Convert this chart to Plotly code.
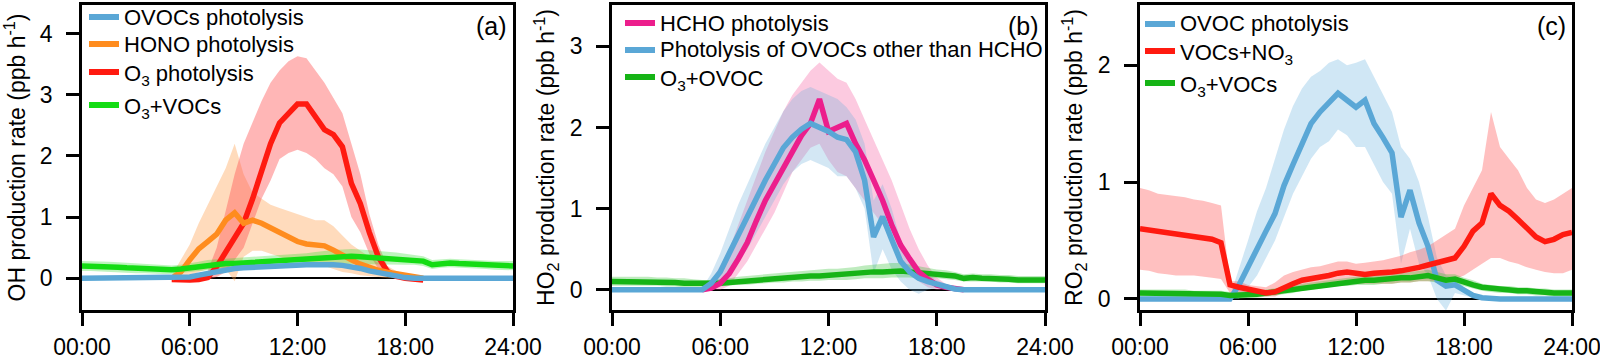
import plotly.graph_objects as go

# Data (half-hour steps, 00:00 - 24:00)
##################################

hours = [i / 2 for i in range(49)]

# Panel (a) OH production
oh_ovoc = [0, 0, 0, 0, 0, 0, 0, 0, 0, 0, 0, 0,
           0.02, 0.05, 0.08, 0.11, 0.14, 0.16, 0.17, 0.18, 0.19, 0.20, 0.20, 0.21, 0.21,
           0.22, 0.22, 0.23, 0.22, 0.21, 0.19, 0.16, 0.12, 0.09, 0.05, 0.03, 0.01,
           0, 0, 0, 0, 0, 0, 0, 0, 0, 0, 0, 0]
# HONO and O3 photolysis start at 05:00 (index 10)
oh_hono = [0.0, 0.1, 0.3, 0.48, 0.6, 0.72, 0.95, 1.07, 0.9, 0.95, 0.9, 0.82, 0.74, 0.67, 0.6,
           0.56, 0.55, 0.53, 0.46, 0.37, 0.3, 0.23, 0.17, 0.13, 0.1, 0.07, 0.04, 0.02, 0.0]
oh_hono_hi = [0.05, 0.3, 0.55, 0.9, 1.2, 1.5, 1.8, 2.2, 1.7, 1.4, 1.3, 1.2, 1.15, 1.1, 1.05,
              1.0, 0.95, 0.95, 0.85, 0.7, 0.55, 0.45, 0.35, 0.25, 0.2, 0.12, 0.07, 0.03, 0.0]
oh_hono_lo = [0, 0, 0.05, 0.1, 0.15, 0.2, 0.15, -0.05, 0.35, 0.45, 0.45, 0.4, 0.35, 0.3, 0.28,
              0.25, 0.22, 0.2, 0.15, 0.1, 0.08, 0.05, 0.03, 0.02, 0, 0, 0, 0, 0]
oh_o3 = [-0.02, -0.03, -0.03, -0.02, 0.01, 0.19, 0.42, 0.65, 0.9, 1.3, 1.75, 2.2, 2.54, 2.7, 2.85,
         2.85, 2.65, 2.43, 2.35, 2.15, 1.55, 1.22, 0.75, 0.35, 0.11, 0.03, 0.0, -0.02, -0.03]
oh_o3_hi = [0, 0, 0.02, 0.05, 0.12, 0.5, 1.1, 1.7, 2.2, 2.55, 2.9, 3.2, 3.4, 3.55, 3.63,
            3.6, 3.4, 3.2, 2.95, 2.7, 2.2, 1.7, 1.05, 0.55, 0.2, 0.05, 0.02, 0, 0]
oh_o3_lo = [-0.05, -0.06, -0.06, -0.05, -0.03, 0.02, 0.1, 0.3, 0.5, 0.9, 1.3, 1.6, 1.95, 2.05, 2.1,
            2.05, 1.95, 1.8, 1.7, 1.5, 1.0, 0.75, 0.4, 0.15, 0.03, 0, -0.02, -0.04, -0.05]
oh_o3voc = [0.2, 0.2, 0.19, 0.19, 0.18, 0.17, 0.16, 0.16, 0.15, 0.14,
            0.14, 0.15, 0.17, 0.19, 0.22, 0.23, 0.24, 0.24, 0.25, 0.25,
            0.26, 0.26, 0.27, 0.28, 0.29, 0.3, 0.31, 0.33, 0.34, 0.35,
            0.36, 0.35, 0.34, 0.33, 0.33, 0.32, 0.31, 0.3, 0.28, 0.22,
            0.24, 0.25, 0.24, 0.23, 0.23, 0.22, 0.21, 0.2, 0.2]
oh_o3voc_hi = [0.28, 0.28, 0.27, 0.27, 0.26, 0.25, 0.24, 0.23, 0.22, 0.21,
               0.21, 0.22, 0.24, 0.27, 0.3, 0.31, 0.32, 0.33, 0.34, 0.34,
               0.35, 0.36, 0.37, 0.38, 0.4, 0.41, 0.43, 0.45, 0.46, 0.47,
               0.48, 0.47, 0.46, 0.44, 0.43, 0.42, 0.4, 0.38, 0.36, 0.3,
               0.31, 0.32, 0.31, 0.3, 0.3, 0.29, 0.28, 0.28, 0.28]
oh_o3voc_lo = [0.12, 0.12, 0.11, 0.11, 0.1, 0.09, 0.08, 0.08, 0.08, 0.07,
               0.07, 0.08, 0.1, 0.12, 0.14, 0.15, 0.16, 0.16, 0.16, 0.17,
               0.17, 0.17, 0.18, 0.18, 0.19, 0.2, 0.2, 0.21, 0.22, 0.23,
               0.24, 0.24, 0.23, 0.23, 0.23, 0.22, 0.22, 0.22, 0.2, 0.15,
               0.17, 0.18, 0.17, 0.16, 0.16, 0.15, 0.14, 0.13, 0.13]

# Panel (b) HO2 production
ho2_hcho = [0.0, 0.02, 0.08, 0.2, 0.38, 0.58, 0.85, 1.1, 1.3, 1.5, 1.72, 1.9, 2.05, 2.35, 1.95,
            2.0, 2.05, 1.8, 1.6, 1.35, 1.1, 0.8, 0.55, 0.38, 0.22, 0.13, 0.06, 0.03, 0.01, 0.0]
ho2_hcho_hi = [0.02, 0.1, 0.3, 0.5, 0.8, 1.1, 1.4, 1.7, 1.95, 2.2, 2.4, 2.55, 2.7, 2.8, 2.7,
               2.6, 2.55, 2.35, 2.1, 1.85, 1.6, 1.35, 1.05, 0.75, 0.5, 0.3, 0.15, 0.07, 0.02, 0.0]
ho2_hcho_lo = [0, 0, 0, 0.05, 0.2, 0.35, 0.55, 0.75, 0.95, 1.2, 1.45, 1.6, 1.75, 1.8, 1.6,
               1.45, 1.4, 1.25, 1.1, 0.95, 0.8, 0.6, 0.4, 0.2, 0.1, 0.03, 0, 0, 0, 0]
ho2_ovoc = [0, 0, 0, 0, 0, 0, 0, 0, 0, 0, 0,
            0.08, 0.22, 0.45, 0.68, 0.88, 1.12, 1.35, 1.55, 1.75, 1.88,
            1.98, 2.05, 2.0, 1.95, 1.88, 1.85, 1.7, 1.35, 0.65, 0.9,
            0.62, 0.35, 0.22, 0.14, 0.1, 0.07, 0.04, 0.01,
            0, 0, 0, 0, 0, 0, 0, 0, 0, 0]
ho2_ovoc_hi = [0.02, 0.2, 0.45, 0.75, 1.05, 1.3, 1.55, 1.8, 2.0, 2.2, 2.35, 2.45, 2.5, 2.45, 2.4,
               2.35, 2.25, 2.1, 1.8, 1.1, 1.3, 1.0, 0.6, 0.4, 0.25, 0.18, 0.12, 0.07, 0.02, 0.0]
ho2_ovoc_lo = [0, 0, 0.05, 0.2, 0.35, 0.5, 0.7, 0.9, 1.1, 1.3, 1.45, 1.55, 1.6, 1.55, 1.5,
               1.4, 1.4, 1.25, 1.0, 0.2, 0.5, 0.25, 0.1, 0.0, -0.05, 0.0, 0.02, 0.01, 0, 0]
ho2_o3 = [0.1, 0.1, 0.1, 0.1, 0.1, 0.1, 0.09, 0.09, 0.08, 0.08,
          0.07, 0.07, 0.08, 0.09, 0.1, 0.11, 0.12, 0.13, 0.14, 0.14,
          0.15, 0.16, 0.17, 0.17, 0.18, 0.18, 0.19, 0.2, 0.21, 0.22,
          0.22, 0.23, 0.23, 0.22, 0.21, 0.2, 0.19, 0.18, 0.17, 0.14,
          0.15, 0.14, 0.14, 0.13, 0.13, 0.12, 0.12, 0.12, 0.12]
ho2_o3_hi = [0.16, 0.16, 0.16, 0.16, 0.16, 0.15, 0.15, 0.14, 0.14, 0.13,
             0.12, 0.12, 0.13, 0.14, 0.16, 0.17, 0.18, 0.19, 0.2, 0.21,
             0.22, 0.23, 0.24, 0.25, 0.26, 0.26, 0.27, 0.28, 0.3, 0.31,
             0.32, 0.33, 0.33, 0.31, 0.29, 0.27, 0.25, 0.24, 0.22, 0.19,
             0.2, 0.19, 0.19, 0.18, 0.18, 0.17, 0.17, 0.17, 0.17]
ho2_o3_lo = [0.05, 0.05, 0.05, 0.05, 0.05, 0.05, 0.04, 0.04, 0.03, 0.03,
             0.03, 0.03, 0.04, 0.05, 0.06, 0.06, 0.07, 0.08, 0.09, 0.09,
             0.1, 0.1, 0.11, 0.11, 0.12, 0.12, 0.12, 0.13, 0.14, 0.14,
             0.14, 0.15, 0.15, 0.15, 0.14, 0.14, 0.14, 0.13, 0.12, 0.1,
             0.1, 0.1, 0.1, 0.09, 0.09, 0.08, 0.08, 0.08, 0.08]

# Panel (c) RO2 production
ro2_ovoc = [0, 0, 0, 0, 0, 0, 0, 0, 0, 0, 0,
            0.12, 0.28, 0.42, 0.58, 0.73, 0.97, 1.15, 1.33, 1.5, 1.6,
            1.68, 1.76, 1.7, 1.64, 1.7, 1.5, 1.38, 1.25, 0.7, 0.93,
            0.65, 0.45, 0.16, 0.11, 0.12, 0.07, 0.03, 0.01,
            0, 0, 0, 0, 0, 0, 0, 0, 0, 0]
ro2_ovoc_hi = [0.02, 0.25, 0.5, 0.75, 0.95, 1.2, 1.45, 1.65, 1.8, 1.9, 1.95, 2.02, 2.05, 2.0, 2.02,
               2.05, 1.9, 1.75, 1.6, 1.3, 1.2, 1.0, 0.7, 0.35, 0.2, 0.18, 0.1, 0.05, 0.02, 0]
ro2_ovoc_lo = [0, 0, 0.1, 0.2, 0.35, 0.5, 0.7, 0.9, 1.05, 1.2, 1.3, 1.35, 1.45, 1.4, 1.3,
               1.3, 1.15, 1.0, 0.9, 0.3, 0.6, 0.3, 0.2, 0.0, -0.1, 0.05, 0.03, 0.01, 0, 0]
ro2_no3 = [0.6, 0.59, 0.58, 0.57, 0.56, 0.55, 0.54, 0.53, 0.51, 0.48,
           0.12, 0.1, 0.08, 0.06, 0.05, 0.06, 0.1, 0.13, 0.16, 0.17,
           0.18, 0.2, 0.22, 0.23, 0.22, 0.21, 0.22, 0.22, 0.23, 0.24,
           0.25, 0.27, 0.29, 0.31, 0.34, 0.35, 0.45, 0.58, 0.65, 0.9,
           0.8, 0.75, 0.68, 0.61, 0.53, 0.49, 0.51, 0.55, 0.57]
ro2_no3_hi = [0.95, 0.93, 0.9, 0.89, 0.88, 0.87, 0.85, 0.84, 0.82, 0.8,
              0.15, 0.15, 0.12, 0.11, 0.1, 0.14, 0.2, 0.23, 0.25, 0.27,
              0.28, 0.3, 0.32, 0.32, 0.3, 0.31, 0.32, 0.33, 0.35, 0.37,
              0.4, 0.42, 0.45, 0.5, 0.55, 0.6, 0.8, 0.95, 1.1, 1.6,
              1.3, 1.2, 1.1, 0.95, 0.85, 0.82, 0.85, 0.9, 0.95]
ro2_no3_lo = [0.25, 0.24, 0.22, 0.21, 0.2, 0.2, 0.2, 0.19, 0.18, 0.17,
              0.05, 0.05, 0.03, 0.02, 0.02, 0.02, 0.05, 0.08, 0.1, 0.11,
              0.12, 0.13, 0.13, 0.13, 0.13, 0.13, 0.13, 0.13, 0.13, 0.14,
              0.14, 0.15, 0.15, 0.15, 0.15, 0.17, 0.2, 0.25, 0.3, 0.35,
              0.35, 0.32, 0.3, 0.27, 0.25, 0.23, 0.22, 0.22, 0.25]
ro2_o3 = [0.05, 0.05, 0.05, 0.05, 0.05, 0.05, 0.04, 0.04, 0.04, 0.04,
          0.03, 0.03, 0.04, 0.04, 0.05, 0.06, 0.07, 0.08, 0.1, 0.11,
          0.12, 0.13, 0.14, 0.14, 0.15, 0.16, 0.16, 0.17, 0.17, 0.18,
          0.18, 0.19, 0.2, 0.18, 0.16, 0.17, 0.14, 0.12, 0.1, 0.09,
          0.08, 0.08, 0.07, 0.07, 0.06, 0.06, 0.05, 0.05, 0.05]
ro2_o3_hi = [0.08, 0.08, 0.08, 0.08, 0.08, 0.08, 0.07, 0.07, 0.07, 0.07,
             0.06, 0.06, 0.07, 0.07, 0.08, 0.09, 0.1, 0.11, 0.13, 0.14,
             0.15, 0.16, 0.17, 0.18, 0.19, 0.2, 0.2, 0.21, 0.21, 0.22,
             0.23, 0.24, 0.25, 0.23, 0.21, 0.21, 0.18, 0.16, 0.13, 0.12,
             0.11, 0.11, 0.1, 0.1, 0.09, 0.09, 0.08, 0.08, 0.08]
ro2_o3_lo = [0.02, 0.02, 0.02, 0.02, 0.02, 0.02, 0.01, 0.01, 0.01, 0.01,
             0.0, 0.0, 0.01, 0.01, 0.02, 0.03, 0.04, 0.05, 0.07, 0.08,
             0.09, 0.1, 0.11, 0.11, 0.12, 0.12, 0.12, 0.13, 0.13, 0.14,
             0.14, 0.15, 0.15, 0.14, 0.12, 0.13, 0.11, 0.09, 0.07, 0.06,
             0.05, 0.05, 0.04, 0.04, 0.03, 0.03, 0.02, 0.02, 0.02]

tick_hours = [0, 6, 12, 18, 24]
tick_text = ["00:00", "06:00", "12:00", "18:00", "24:00"]

# Colours
BLUE = "#5AA7D6"
ORANGE = "#FF8C1E"
RED = "#FF1A10"
LIME = "#14DC14"
PINK = "#EC1E8C"
GREEN = "#16B416"

FONT = "Liberation Sans, Arial, sans-serif"
W, H = 1600, 360


def px(x):
    return x / W


def py(y):
    return 1 - y / H


# Helpers
##################################


def span(start, vals):
    """ Hours that belong to a series which starts at index `start`. """
    return hours[start:start + len(vals)]


def band(fig, start, lo, hi, color, n):
    xs = span(start, lo)
    fig.add_trace(go.Scatter(
        x=xs + xs[::-1], y=hi + lo[::-1], fill="toself", fillcolor=color,
        line=dict(width=0), mode="lines", hoverinfo="skip", showlegend=False,
        xaxis=f"x{n}", yaxis=f"y{n}",
    ))


def line(fig, start, vals, color, name, n):
    fig.add_trace(go.Scatter(
        x=span(start, vals), y=vals, mode="lines", name=name,
        line=dict(color=color, width=5.5), showlegend=False,
        xaxis=f"x{n}", yaxis=f"y{n}",
    ))


def legend_entry(fig, x0, yc, color, text, shift=0):
    """ Igor-style legend row: short thick line sample and a label (pixel positions). """
    fig.add_shape(
        type="line", xref="paper", yref="paper",
        x0=px(x0), x1=px(x0 + 30), y0=py(yc), y1=py(yc),
        line=dict(color=color, width=6),
    )
    fig.add_annotation(
        text=text, x=px(x0 + 33), y=py(yc + shift), xref="paper", yref="paper",
        xanchor="left", yanchor="middle", showarrow=False,
        font=dict(size=22, color="black", family=FONT),
    )


fig = go.Figure()

# (a)
band(fig, 10, oh_hono_lo, oh_hono_hi, "rgba(255,160,80,0.38)", "")
band(fig, 10, oh_o3_lo, oh_o3_hi, "rgba(255,80,80,0.42)", "")
band(fig, 0, oh_o3voc_lo, oh_o3voc_hi, "rgba(40,220,40,0.3)", "")
line(fig, 10, oh_o3, RED, "O<sub>3</sub> photolysis", "")
line(fig, 10, oh_hono, ORANGE, "HONO photolysis", "")
line(fig, 0, oh_o3voc, LIME, "O<sub>3</sub>+VOCs", "")
line(fig, 0, oh_ovoc, BLUE, "OVOCs photolysis", "")

# (b)
band(fig, 10, ho2_hcho_lo, ho2_hcho_hi, "rgba(245,90,160,0.32)", "2")
band(fig, 10, ho2_ovoc_lo, ho2_ovoc_hi, "rgba(110,175,220,0.3)", "2")
band(fig, 0, ho2_o3_lo, ho2_o3_hi, "rgba(40,190,40,0.3)", "2")
line(fig, 0, ho2_o3, GREEN, "O<sub>3</sub>+OVOC", "2")
line(fig, 10, ho2_hcho, PINK, "HCHO photolysis", "2")
line(fig, 0, ho2_ovoc, BLUE, "Photolysis of OVOCs other than HCHO", "2")

# (c)
band(fig, 10, ro2_ovoc_lo, ro2_ovoc_hi, "rgba(110,180,225,0.32)", "3")
band(fig, 0, ro2_no3_lo, ro2_no3_hi, "rgba(255,90,90,0.38)", "3")
band(fig, 0, ro2_o3_lo, ro2_o3_hi, "rgba(40,190,40,0.3)", "3")
line(fig, 0, ro2_ovoc, BLUE, "OVOC photolysis", "3")
line(fig, 0, ro2_o3, GREEN, "O<sub>3</sub>+VOCs", "3")
line(fig, 0, ro2_no3, RED, "VOCs+NO<sub>3</sub>", "3")


# Layout
##################################

y_dom = [py(310), py(5)]
x_doms = [[px(82), px(513)], [px(612), px(1045)], [px(1140), px(1572)]]
y_ranges = [[-0.52, 4.47], [-0.25, 3.51], [-0.095, 2.515]]
y_titles = [
    "OH production rate (ppb h<sup>-1</sup>)",
    "HO<sub>2</sub> production rate (ppb h<sup>-1</sup>)",
    "RO<sub>2</sub> production rate (ppb h<sup>-1</sup>)",
]

axis_common = dict(
    showline=True, linecolor="black", linewidth=2.5, mirror=True,
    ticks="outside", ticklen=13, tickwidth=2.5, tickcolor="black",
    showgrid=False, automargin=False, ticklabeloverflow="allow",
    tickfont=dict(size=23, color="black", family=FONT),
)

layout = dict(
    width=W, height=H, margin=dict(l=0, r=0, t=0, b=0, autoexpand=False),
    paper_bgcolor="white", plot_bgcolor="white", showlegend=False,
    font=dict(family=FONT, size=22, color="black"),
)
for i in range(3):
    n = "" if i == 0 else str(i + 1)
    layout[f"xaxis{n}"] = dict(
        axis_common, domain=x_doms[i], range=[0, 24], anchor=f"y{n}",
        tickvals=tick_hours, ticktext=tick_text, zeroline=False, ticklabelstandoff=2,
    )
    layout[f"yaxis{n}"] = dict(
        axis_common, domain=y_dom, range=y_ranges[i], anchor=f"x{n}", dtick=1,
        zeroline=True, zerolinecolor="black", zerolinewidth=1.5, ticklabelstandoff=9,
        title=dict(text=y_titles[i], font=dict(size=23), standoff=9),
    )

fig.update_layout(**layout)

# Legends, one per panel
legend_entry(fig, 89, 17, BLUE, "OVOCs photolysis")
legend_entry(fig, 89, 44, ORANGE, "HONO photolysis")
legend_entry(fig, 89, 72, RED, "O<sub>3</sub> photolysis", 3)
legend_entry(fig, 89, 105, LIME, "O<sub>3</sub>+VOCs", 3)

legend_entry(fig, 625, 23, PINK, "HCHO photolysis")
legend_entry(fig, 625, 50, BLUE, "Photolysis of OVOCs other than HCHO")
legend_entry(fig, 625, 77, GREEN, "O<sub>3</sub>+OVOC", 3)

legend_entry(fig, 1145, 24, BLUE, "OVOC photolysis")
legend_entry(fig, 1145, 51, RED, "VOCs+NO<sub>3</sub>", 3)
legend_entry(fig, 1145, 83, GREEN, "O<sub>3</sub>+VOCs", 3)

for i, lab in enumerate(["(a)", "(b)", "(c)"]):
    fig.add_annotation(
        text=lab, x=x_doms[i][1] - 4 / W, y=py(26), xref="paper", yref="paper",
        xanchor="right", yanchor="middle", showarrow=False,
        font=dict(size=25, color="black", family=FONT),
    )

# drop the page's default body margin so the figure sits at the window corner
fig.write_html(
    "out.html",
    config={"displayModeBar": False},
    post_script="document.body.style.margin = '0';",
)
